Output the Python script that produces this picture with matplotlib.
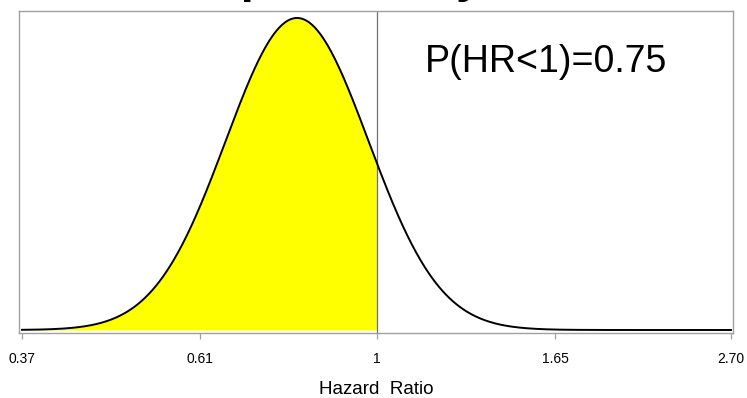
"""
plot.py

Posterior density of the hazard ratio (log-scaled x axis), with the
area below HR = 1 shaded yellow. Saves out.png (747x398 px).
"""
import numpy as np
import matplotlib
matplotlib.use('Agg')  # headless
import matplotlib.pyplot as plt

# --- values ---
POST_MEAN_HR = 0.80      # peak of the posterior (HR scale)
POST_SD_LOG = 0.20       # spread of the posterior on log(HR)
HR_RANGE = [0.37, 2.70]  # where the curve is drawn
HR_CUT = 1.0             # shaded below this value
TICK_VALUES = [0.37, 0.61, 1, 1.65, 2.70]
TICK_LABELS = ['0.37', '0.61', '1', '1.65', '2.70']
PROB_LABEL = 'P(HR<1)=0.75'
X_LABEL = 'Hazard  Ratio'
TITLE = 'Posterior probability'

FONT = ['Liberation Sans', 'DejaVu Sans']
YELLOW = '#ffff00'
GREY = '#a0a0a0'


def posterior_pdf(hr):
    z = (np.log(hr) - np.log(POST_MEAN_HR)) / POST_SD_LOG
    return np.exp(-0.5 * z * z) / (POST_SD_LOG * np.sqrt(2 * np.pi))


plt.rcParams['font.family'] = FONT

fig = plt.figure(figsize=(7.47, 3.98), dpi=100)
ax = fig.add_axes([19 / 747, 1 - 333 / 398, (733 - 19) / 747, (333 - 11) / 398])

hr = np.exp(np.linspace(np.log(HR_RANGE[0]), np.log(HR_RANGE[1]), 800))
hr = np.sort(np.append(hr, HR_CUT))
dens = posterior_pdf(hr)
peak = dens.max()

# shaded part (HR < 1)
below = hr <= HR_CUT
ax.fill_between(hr[below], 0, dens[below], color=YELLOW, linewidth=0, zorder=1)
ax.axvline(HR_CUT, color='#707070', linewidth=0.9, zorder=2)
ax.plot(hr, dens, color='black', linewidth=1.4, zorder=3)

ax.set_xscale('log')
ax.set_xlim(0.3669, 2.7152)
ax.set_ylim(-0.0096 * peak, 1.0224 * peak)

ax.set_xticks(TICK_VALUES)
ax.set_xticklabels(TICK_LABELS)
ax.xaxis.set_minor_locator(matplotlib.ticker.NullLocator())
ax.set_yticks([])
ax.tick_params(axis='x', direction='out', length=4, width=0.9, color=GREY,
               labelsize=10, pad=10, labelcolor='black')

for s in ax.spines.values():
    s.set_color(GREY)
    s.set_linewidth(1.0)

# axis label placed by hand so it sits right on the bottom edge
fig.text(376 / 747, 1 - 394 / 398, X_LABEL, fontsize=13.5,
         ha='center', va='baseline', color='black')

# probability annotation, upper right
ax.text(425 / 747, 1 - 72 / 398, PROB_LABEL, transform=fig.transFigure,
        fontsize=27, ha='left', va='baseline', color='black')

# title mostly cut off by the top edge, only descenders show
fig.text(20 / 747, 1 + 8.5 / 398, TITLE, fontsize=34, fontweight='bold',
         ha='left', va='baseline', color='black')

fig.savefig('out.png', dpi=100)
